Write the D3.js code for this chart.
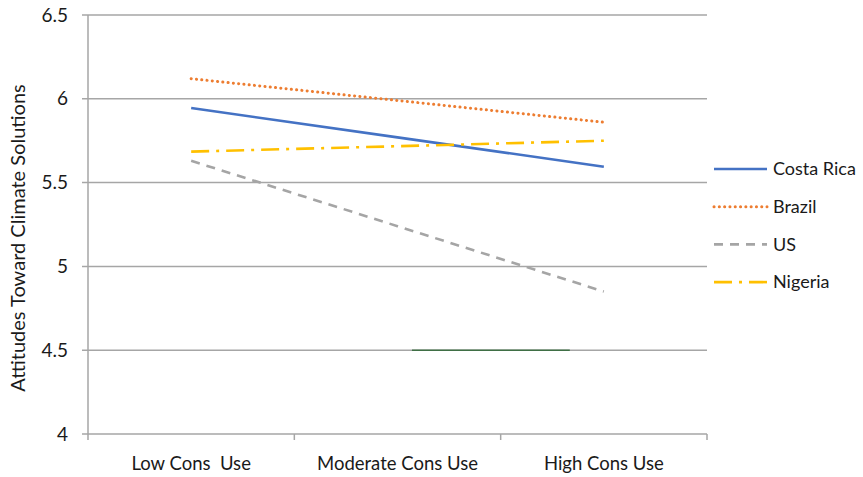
<!DOCTYPE html>
<html><head><meta charset="utf-8">
<script src="https://cdn.jsdelivr.net/npm/d3@7"></script>
<style>body{margin:0;background:#fff}svg{display:block}text{font-family:Lato,"Open Sans",sans-serif}</style>
</head><body><svg id="c" width="863" height="477"></svg>
<script>
const categories = ["Low Cons  Use", "Moderate Cons Use", "High Cons Use"];
const seriesNames = ["Costa Rica", "Brazil", "US", "Nigeria"];
const costaRica = [5.945, 5.77, 5.595];
const brazil = [6.12, 5.99, 5.86];
const us = [5.63, 5.24, 4.85];
const nigeria = [5.685, 5.717, 5.75];
const yTicks = [4, 4.5, 5, 5.5, 6, 6.5];
const yTitle = "Attitudes Toward Climate Solutions";

const series = [
  {name: seriesNames[0], values: costaRica, color: "#4472C4", dash: null, cap: "butt"},
  {name: seriesNames[1], values: brazil, color: "#ED7D31", dash: "0.1 5.2", cap: "round"},
  {name: seriesNames[2], values: us, color: "#A5A5A5", dash: "9 7", cap: "butt"},
  {name: seriesNames[3], values: nigeria, color: "#FFC000", dash: "18 7 3 7", cap: "butt"}
];

const svg = d3.select("#c");
const L = 88, R = 707, T = 15, B = 434;
const x = d3.scaleBand().domain(categories).range([L, R]);
const y = d3.scaleLinear().domain([4, 6.5]).range([B, T]);
const cx = c => x(c) + x.bandwidth() / 2;

// gridlines
svg.append("g").selectAll("line").data(yTicks).join("line")
  .attr("x1", L - 6).attr("x2", R).attr("y1", d => y(d)).attr("y2", d => y(d))
  .attr("stroke", "#a6a6a6").attr("stroke-width", 1.5);
// y axis line
svg.append("line").attr("x1", L).attr("x2", L).attr("y1", T).attr("y2", B + 6)
  .attr("stroke", "#a6a6a6").attr("stroke-width", 1.5);
// x ticks at band boundaries
const bounds = categories.map(c => x(c)).concat([R]);
svg.append("g").selectAll("line").data(bounds.slice(1)).join("line")
  .attr("x1", d => d).attr("x2", d => d).attr("y1", B).attr("y2", B + 6)
  .attr("stroke", "#a6a6a6").attr("stroke-width", 1.5);

// artifact line on 4.5 gridline
svg.append("line")
  .attr("x1", cx(categories[1]) + x.bandwidth() * 0.07)
  .attr("x2", cx(categories[2]) - x.bandwidth() * 0.165)
  .attr("y1", y(4.5)).attr("y2", y(4.5))
  .attr("stroke", "#3f6f45").attr("stroke-width", 1.5);

// y tick labels
svg.append("g").selectAll("text").data(yTicks).join("text")
  .attr("x", 68).attr("y", d => y(d)).attr("dy", "0.35em")
  .attr("text-anchor", "end").attr("font-size", 19).attr("fill", "#1a1a1a")
  .text(d => d3.format("")(d));
// x labels
svg.append("g").selectAll("text").data(categories).join("text")
  .attr("x", d => cx(d)).attr("y", 470)
  .attr("text-anchor", "middle").attr("font-size", 18.5).attr("fill", "#1a1a1a")
  .attr("xml:space", "preserve").style("white-space", "pre")
  .text(d => d);
// y title
svg.append("text").attr("transform", `translate(25,238) rotate(-90)`)
  .attr("text-anchor", "middle").attr("font-size", 20).attr("fill", "#1a1a1a")
  .text(yTitle);

// lines
const line = d3.line().x((d, i) => cx(categories[i])).y(d => y(d));
svg.append("g").selectAll("path").data(series).join("path")
  .attr("d", d => line(d.values)).attr("fill", "none")
  .attr("stroke", d => d.color).attr("stroke-width", d => d.name === "Brazil" ? 3 : 2.6)
  .attr("stroke-dasharray", d => d.dash).attr("stroke-linecap", d => d.cap);

// legend
const lg = svg.append("g").selectAll("g").data(series).join("g")
  .attr("transform", (d, i) => `translate(714,${169 + i * 37.7})`);
lg.append("line").attr("x1", 0).attr("x2", 53).attr("y1", 0).attr("y2", 0)
  .attr("stroke", d => d.color).attr("stroke-width", d => d.name === "Brazil" ? 3 : 2.6)
  .attr("stroke-dasharray", d => d.dash).attr("stroke-linecap", d => d.cap);
lg.append("text").attr("x", 59).attr("y", 0).attr("dy", "0.35em")
  .attr("font-size", 18).attr("fill", "#1a1a1a").text(d => d.name);
</script></body></html>
